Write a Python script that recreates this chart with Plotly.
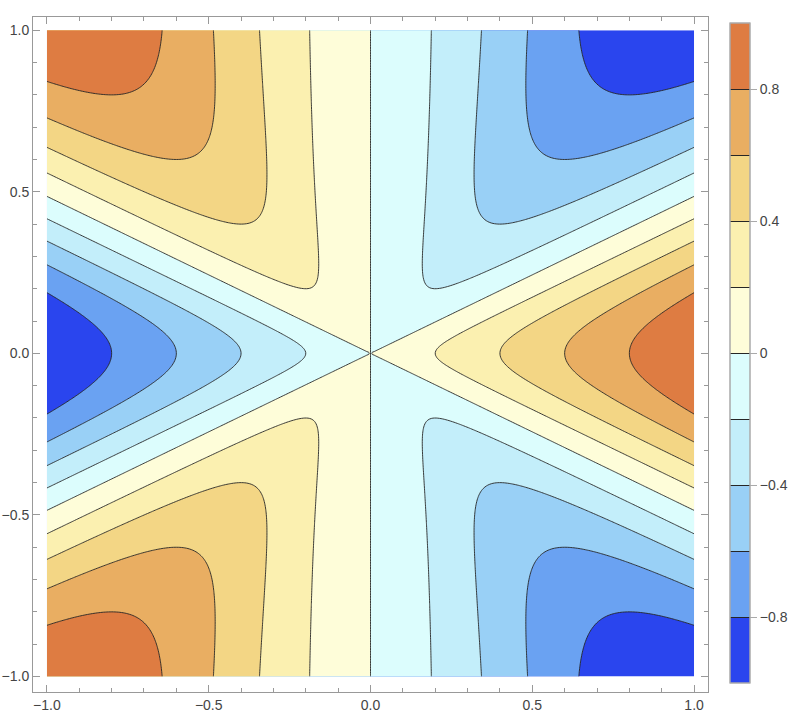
import numpy as np
import plotly.graph_objects as go

# Sampling grid (even count so that x = 0 / the origin fall between samples)
x_vals = np.linspace(-1, 1, 400)
y_vals = np.linspace(-1, 1, 400)
X, Y = np.meshgrid(x_vals, y_vals)
R2 = X**2 + Y**2
# Surface: z = x (x^4 - 4 x^2 y^2 - y^4) / (x^2 + y^2)^2
z_vals = X * (X**4 - 4 * X**2 * Y**2 - Y**4) / R2**2

# Contour levels and band colours (lowest band first)
levels = [-0.8, -0.6, -0.4, -0.2, 0.0, 0.2, 0.4, 0.6, 0.8]
band_colors = ["#2a45ee", "#6aa2f2", "#99d0f6", "#c3eefa", "#dcfdfd",
               "#fefdd9", "#fbf0b0", "#f3d685", "#e9ae62", "#de7c42"]
axis_ticks = [-1.0, -0.5, 0.0, 0.5, 1.0]
axis_ticktext = ["\u22121.0", "\u22120.5", "0.0", "0.5", "1.0"]
cbar_ticks = [-0.8, -0.4, 0.0, 0.4, 0.8]
cbar_ticktext = ["\u22120.8", "\u22120.4", "0", "0.4", "0.8"]
cbar_edges = [-1.0] + levels + [1.0]

# Stepped colourscale over [-1, 1]
n = len(band_colors)
colorscale = []
for i, c in enumerate(band_colors):
    colorscale.append([i / n, c])
    colorscale.append([(i + 1) / n, c])

fig = go.Figure()
fig.add_trace(go.Contour(
    x=x_vals, y=y_vals, z=z_vals,
    zmin=-1, zmax=1,
    colorscale=colorscale,
    contours=dict(start=levels[0], end=levels[-1], size=0.2, coloring="fill"),
    line=dict(color="#262626", width=0.9, smoothing=1.0),
    showscale=False,
    hoverinfo="skip",
))

# plot area: x 33..708, y 17..692 (675 px each)
cb_common = dict(
    thickness=20, thicknessmode="pixels",
    len=660 / 675, lenmode="fraction",
    x=(730 - 33) / 675, xanchor="left", xpad=0,
    y=(692 - 683) / 675, yanchor="bottom", ypad=0,
    outlinecolor="#aaaaaa", outlinewidth=1,
)

# Colour legend: banded bar with dark band separators
fig.add_trace(go.Scatter(
    x=[None], y=[None], mode="markers", showlegend=False, hoverinfo="skip",
    marker=dict(color=[0], cmin=-1, cmax=1, colorscale=colorscale, showscale=True,
                colorbar=dict(**cb_common,
                              tickvals=cbar_edges, ticktext=[""] * len(cbar_edges),
                              ticks="inside", ticklen=20, tickwidth=1,
                              tickcolor="#262626")),
))
# Same bar again carrying the labels and outside ticks
fig.add_trace(go.Scatter(
    x=[None], y=[None], mode="markers", showlegend=False, hoverinfo="skip",
    marker=dict(color=[0], cmin=-1, cmax=1,
                colorscale=[[0, "rgba(0,0,0,0)"], [1, "rgba(0,0,0,0)"]],
                showscale=True,
                colorbar=dict(**cb_common,
                              tickvals=cbar_ticks, ticktext=cbar_ticktext,
                              ticks="outside", ticklen=7, tickcolor="#aaaaaa",
                              tickfont=dict(family="Liberation Sans, Arial", size=14,
                                            color="#444444"))),
))

axis_common = dict(
    tickvals=axis_ticks, ticktext=axis_ticktext,
    showgrid=False, zeroline=False, automargin=False,
    showline=True, linecolor="#999999", linewidth=1, mirror="ticks",
    ticks="inside", ticklen=7, tickcolor="#999999",
    minor=dict(dtick=0.1, tick0=0, ticks="inside", ticklen=4, tickcolor="#999999"),
    tickfont=dict(family="Liberation Sans, Arial", size=14, color="#444444"),
)

fig.update_layout(
    width=800, height=727,
    margin=dict(l=33, r=92, t=17, b=35, autoexpand=False),
    paper_bgcolor="white", plot_bgcolor="white",
    xaxis=dict(**axis_common, range=[-1.043, 1.043]),
    yaxis=dict(**axis_common, range=[-1.048, 1.041]),
)

fig.write_html("out.html")
